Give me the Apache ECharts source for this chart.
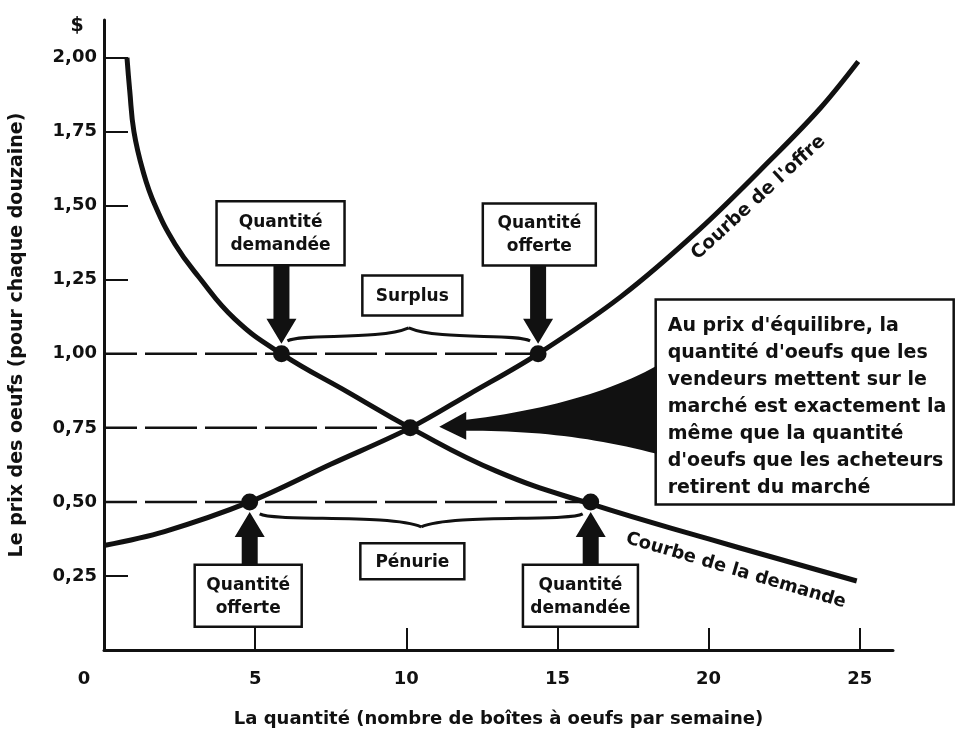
<!DOCTYPE html>
<html>
<head>
<meta charset="utf-8">
<script src="https://cdn.jsdelivr.net/npm/echarts@6/dist/echarts.min.js"></script>
<style>
  html, body { margin: 0; background: #fff; }
  #main { width: 977px; height: 733px; }
</style>
</head>
<body>
<div id="main"></div>
<script>
var myChart = echarts.init(document.getElementById('main'));

// courbe de l'offre (quantité, prix)
var supplyQty   = [0, 2, 4.82, 7.5, 10.13, 12.1, 14.36, 17.1, 19.7, 22.1, 23.7, 24.95];
var supplyPrice = [0.353, 0.40, 0.50, 0.627, 0.75, 0.865, 1.00, 1.193, 1.42, 1.66, 1.83, 1.987];
// courbe de la demande
var demandQty   = [0.76, 0.85, 0.99, 1.29, 1.68, 2.35, 3.13, 4.33, 5.87, 8.08, 10.13, 13.0, 16.1, 20.0, 24.9];
var demandPrice = [2.00, 1.89, 1.75, 1.617, 1.503, 1.37, 1.26, 1.117, 1.00, 0.87, 0.75, 0.603, 0.493, 0.375, 0.233];
// points marqués : 0,1 surplus ; 2 équilibre ; 3,4 pénurie
var pointQty   = [5.87, 14.36, 10.13, 4.82, 16.1];
var pointPrice = [1.00, 1.00, 0.75, 0.50, 0.50];
// lignes pointillées
var guidePrice = [1.00, 0.75, 0.50];
var guideQty   = [14.36, 10.13, 16.1];
// graduations
var xLabelValues = [0, 5, 10, 15, 20, 25];
var xTickValues  = [5, 10, 15, 20, 25];
var yLabelValues = [0.25, 0.50, 0.75, 1.00, 1.25, 1.50, 1.75, 2.00];
var yTickValues  = [0.25, 1.25, 1.50, 1.75, 2.00];

var boxTexts = ['Quantité\ndemandée', 'Quantité\nofferte', 'Surplus', 'Pénurie', 'Quantité\nofferte', 'Quantité\ndemandée'];
var noteLines = [
    "Au prix d'équilibre, la",
    "quantité d'oeufs que les",
    "vendeurs mettent sur le",
    "marché est exactement la",
    "même que la quantité",
    "d'oeufs que les acheteurs",
    "retirent du marché"
];

var ink = '#111';
var fontName = '"DejaVu Sans", sans-serif';

function zip(a, b) {
    return a.map(function (v, i) { return [v, b[i]]; });
}

var series = [];
guidePrice.forEach(function (p, i) {
    series.push({
        type: 'line',
        data: [[0, p], [guideQty[i], p]],
        symbol: 'none',
        silent: true,
        z: 1,
        lineStyle: { color: ink, width: 2.5, type: [52, 8], dashOffset: 19 }
    });
});
series.push({
    name: "Courbe de l'offre",
    type: 'line',
    data: zip(supplyQty, supplyPrice),
    smooth: 0.35,
    symbol: 'none',
    z: 3,
    lineStyle: { color: ink, width: 5 }
});
series.push({
    name: 'Courbe de la demande',
    type: 'line',
    data: zip(demandQty, demandPrice),
    smooth: 0.45,
    symbol: 'none',
    z: 3,
    lineStyle: { color: ink, width: 5 }
});
series.push({
    type: 'scatter',
    data: zip(pointQty, pointPrice),
    symbolSize: 17,
    z: 5,
    itemStyle: { color: ink, opacity: 1 }
});

var axisText = { color: ink, fontFamily: fontName, fontWeight: 'bold' };

var option = {
    backgroundColor: '#fff',
    animation: false,
    grid: { left: 102, right: 84, top: 20, bottom: 75 },
    xAxis: {
        type: 'value',
        min: 0,
        max: 26.1,
        name: 'La quantité (nombre de boîtes à oeufs par semaine)',
        nameLocation: 'middle',
        nameGap: 60,
        nameTextStyle: Object.assign({ fontSize: 18 }, axisText),
        axisLine: { lineStyle: { color: ink, width: 3 } },
        axisTick: { inside: true, length: 22, customValues: xTickValues, lineStyle: { color: ink, width: 2 } },
        axisLabel: Object.assign({
            customValues: xLabelValues,
            margin: 20,
            fontSize: 18,
            formatter: function (v) { return v === 0 ? '{z|0}' : String(v); },
            rich: { z: { padding: [0, 40, 0, 0], fontSize: 18, fontFamily: fontName, fontWeight: 'bold', color: ink } }
        }, axisText),
        splitLine: { show: false }
    },
    yAxis: {
        type: 'value',
        min: 0,
        max: 2.127,
        name: 'Le prix des oeufs (pour chaque douzaine)',
        nameLocation: 'middle',
        nameRotate: 90,
        nameGap: 77,
        nameTextStyle: Object.assign({ fontSize: 19 }, axisText),
        axisLine: { lineStyle: { color: ink, width: 3 } },
        axisTick: { inside: true, length: 24, customValues: yTickValues, lineStyle: { color: ink, width: 2 } },
        axisLabel: Object.assign({
            customValues: yLabelValues,
            margin: 7,
            fontSize: 18,
            formatter: function (v) { return v.toFixed(2).replace('.', ','); }
        }, axisText),
        splitLine: { show: false }
    },
    series: series
};

myChart.setOption(option);

function toPx(q, p) {
    return myChart.convertToPixel({ gridIndex: 0 }, [q, p]);
}

function textEl(x, y, text, size, align, vAlign, extra) {
    var el = {
        type: 'text',
        x: x,
        y: y,
        z: 20,
        style: {
            text: text,
            font: 'bold ' + size + 'px ' + fontName,
            fill: ink,
            align: align, verticalAlign: vAlign,
            textAlign: align, textVerticalAlign: vAlign,
            lineHeight: size + 6
        }
    };
    return Object.assign(el, extra || {});
}

// flèche verticale épaisse, de y0 (queue) à y1 (pointe)
function arrowEl(x, y0, y1) {
    var d = y1 > y0 ? 1 : -1;
    var yb = y1 - d * 25, sw = 8, hw = 15;
    return {
        type: 'polygon', z: 15,
        shape: { points: [[x - sw, y0], [x + sw, y0], [x + sw, yb], [x + hw, yb], [x, y1], [x - hw, yb], [x - sw, yb]] },
        style: { fill: ink }
    };
}

// accolade horizontale, s = -1 pointe vers le haut, +1 vers le bas
function braceEls(xl, xr, b, s) {
    var xm = (xl + xr) / 2;
    function half(xe, k) {
        return {
            type: 'bezierCurve', z: 15,
            shape: {
                x1: xe, y1: b - s * 4,
                cpx1: xe + k * 15, cpy1: b + s * 4,
                cpx2: xm - k * 30, cpy2: b - s * 4,
                x2: xm, y2: b + s * 9
            },
            style: { fill: null, stroke: ink, lineWidth: 3 }
        };
    }
    return [half(xl, 1), half(xr, -1)];
}

function quad(p0, c, p1, n) {
    var out = [];
    for (var i = 0; i <= n; i++) {
        var t = i / n, u = 1 - t;
        out.push([u * u * p0[0] + 2 * u * t * c[0] + t * t * p1[0], u * u * p0[1] + 2 * u * t * c[1] + t * t * p1[1]]);
    }
    return out;
}

function buildGraphics() {
    var g = [];
    var pts = pointQty.map(function (q, i) { return toPx(q, pointPrice[i]); });

    // emplacement des cadres (coordonnées des données) et taille en pixels
    var boxAt = [[5.84, 1.407], [14.4, 1.403], [10.2, 1.197], [10.2, 0.30], [4.77, 0.183], [15.76, 0.183]];
    var boxSize = [[128, 64], [113, 62], [100, 40], [104, 36], [107, 62], [115, 62]];
    var rects = [];
    boxAt.forEach(function (a, i) {
        var c = toPx(a[0], a[1]);
        var w = boxSize[i][0], h = boxSize[i][1];
        rects.push({ x: c[0] - w / 2, y: c[1] - h / 2, w: w, h: h });
        g.push({
            type: 'rect', z: 12,
            shape: { x: c[0] - w / 2, y: c[1] - h / 2, width: w, height: h },
            style: { fill: '#fff', stroke: ink, lineWidth: 2.5 }
        });
        g.push(textEl(c[0], c[1] + 1, boxTexts[i], 17, 'center', 'middle'));
    });

    // flèches vers les points
    g.push(arrowEl(pts[0][0], rects[0].y + rects[0].h, pts[0][1] - 10));
    g.push(arrowEl(pts[1][0], rects[1].y + rects[1].h, pts[1][1] - 10));
    g.push(arrowEl(pts[3][0], rects[4].y, pts[3][1] + 10));
    g.push(arrowEl(pts[4][0], rects[5].y, pts[4][1] + 10));

    // accolades surplus / pénurie
    g = g.concat(braceEls(pts[0][0] + 6, pts[1][0] - 8, pts[0][1] - 17, -1));
    g = g.concat(braceEls(pts[3][0] + 10, pts[4][0] - 8, pts[3][1] + 16, 1));

    // cadre explicatif
    var n = toPx(18.25, 1.183);
    var nw = 298, nh = 205;
    g.push({
        type: 'rect', z: 12,
        shape: { x: n[0], y: n[1], width: nw, height: nh },
        style: { fill: '#fff', stroke: ink, lineWidth: 2.5 }
    });
    g.push({
        type: 'text', x: n[0] + 12, y: n[1] + 13, z: 20,
        style: {
            text: noteLines.join('\n'),
            font: 'bold 19px ' + fontName,
            fill: ink, align: 'left', verticalAlign: 'top', textAlign: 'left', textVerticalAlign: 'top',
            lineHeight: 27
        }
    });

    // grande flèche vers l'équilibre
    var e = pts[2];
    var tx = e[0] + 29, ty = e[1] - 1;
    var hx = tx + 27, bx = n[0] + 1;
    var topEdge = quad([hx, ty - 7], [hx + 120, ty - 22], [bx, ty - 61], 24);
    var botEdge = quad([bx, ty + 27], [hx + 100, ty + 3], [hx, ty + 4], 24);
    var wedge = [[tx, ty], [hx, ty - 15]].concat(topEdge, botEdge, [[hx, ty + 13]]);
    g.push({ type: 'polygon', z: 14, shape: { points: wedge }, style: { fill: ink } });

    // libellés des courbes
    var o = toPx(21.65, 1.527);
    g.push(textEl(o[0], o[1], "Courbe de l'offre", 18.5, 'center', 'middle', { rotation: 42.6 * Math.PI / 180 }));
    var dm = toPx(20.9, 0.268);
    g.push(textEl(dm[0], dm[1], 'Courbe de la demande', 18, 'center', 'middle', { rotation: -16.5 * Math.PI / 180 }));

    // symbole $
    var top = toPx(0, 2.127);
    g.push(textEl(top[0] - 27, top[1] + 6, '$', 19, 'center', 'middle'));

    return g;
}

myChart.setOption({ graphic: { elements: buildGraphics() } });
</script>
</body>
</html>
